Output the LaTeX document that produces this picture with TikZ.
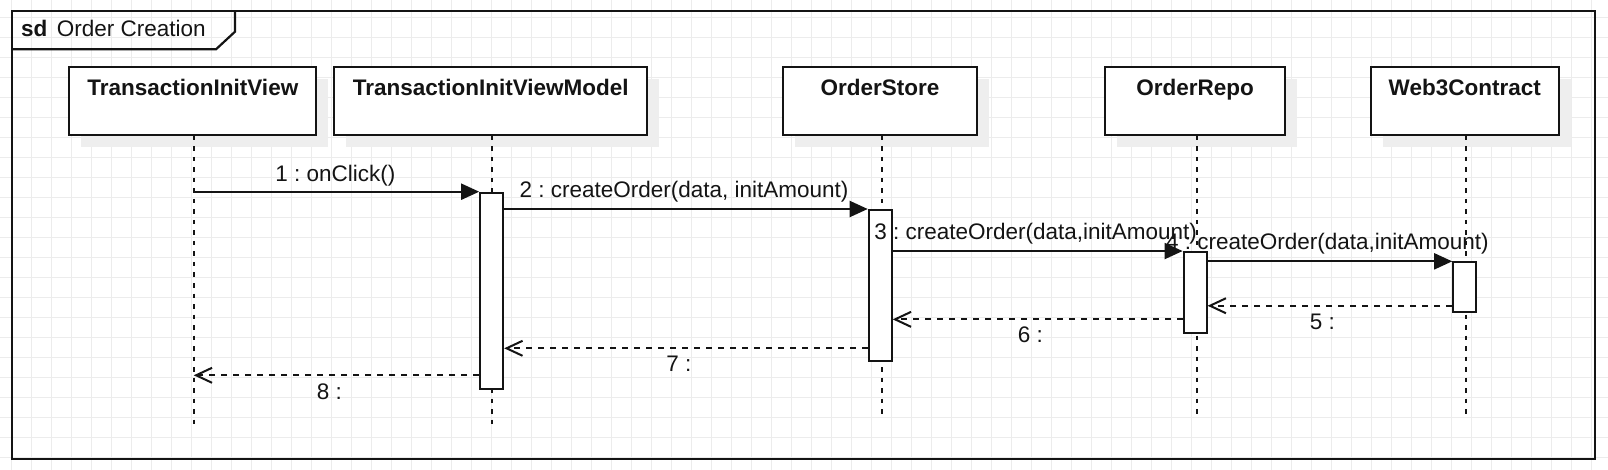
\documentclass[tikz,border=0pt]{standalone}
\usepackage{fontspec}
\setmainfont{Liberation Sans}
\usetikzlibrary{arrows.meta,shadows}
\definecolor{gridc}{RGB}{236,236,236}
\definecolor{ink}{RGB}{20,20,20}
\definecolor{shadowc}{RGB}{238,238,238}
\frenchspacing
\begin{document}
\frenchspacing
\begin{tikzpicture}[x=1pt,y=-1pt,
  gridline/.style={draw=gridc, line width=1pt},
  frameline/.style={draw=ink, line width=2.2pt},
  lifebox/.style={draw=ink, line width=2pt, fill=white, minimum height=68pt, inner sep=0pt,
    drop shadow={shadow xshift=12pt, shadow yshift=-12pt, fill=shadowc, opacity=1}},
  titletext/.style={font=\fontsize{22.5}{27}\selectfont\bfseries, anchor=base, inner sep=0pt, text=ink},
  actbar/.style={draw=ink, line width=2pt, fill=white, minimum width=23pt, inner sep=0pt},
  lifeline/.style={draw=ink, line width=2pt, dash pattern=on 4.5pt off 6pt},
  msg/.style={draw=ink, line width=2pt, -{Triangle[length=18pt,width=16pt]}},
  ret/.style={draw=ink, line width=2pt, dash pattern=on 6pt off 6pt, -{Straight Barb[length=16pt,width=15pt]}},
  lbl/.style={font=\fontsize{22.5}{27}\selectfont\frenchspacing, anchor=base, inner sep=0pt, text=ink}
]
\useasboundingbox (0,0) rectangle (1608,470);
\fill[white] (0,0) rectangle (1608,470);
% grid
\foreach \gx in {11.7,31.7,...,1608} \draw[gridline] (\gx,0) -- (\gx,470);
\foreach \gy in {17.3,37.3,...,470} \draw[gridline] (0,\gy) -- (1608,\gy);
% frame
\draw[frameline] (12.3,10.7) rectangle (1595,459);
\draw[frameline] (12.3,49.3) -- (216,49.3) -- (235,31.7) -- (235,10.7);
\node[lbl, anchor=base west] (sdlabel) at (21,36.7) {\bfseries sd\hspace{9.4pt}\mdseries Order Creation};
% lifeline heads
\node[lifebox, minimum width=247pt] (tiv) at (192,101) {};
\node[lifebox, minimum width=312.8pt] (tivm) at (490.7,101) {};
\node[lifebox, minimum width=194.8pt] (os) at (879.9,101) {};
\node[lifebox, minimum width=180.6pt] (or) at (1195,101) {};
\node[lifebox, minimum width=188pt] (w3) at (1464.7,101) {};
\node[titletext] (tivT) at (192.8,96) {TransactionInitView};
\node[titletext] (tivmT) at (490.7,96) {TransactionInitViewModel};
\node[titletext] (osT) at (879.9,96) {OrderStore};
\node[titletext] (orT) at (1195,96) {OrderRepo};
\node[titletext] (w3T) at (1464.7,96) {Web3Contract};
% lifelines
\coordinate (tivL) at (193.7,425);
\coordinate (tivmL) at (492.4,425);
\coordinate (osL) at (881.6,415);
\coordinate (orL) at (1196.7,415);
\coordinate (w3L) at (1466.4,415);
\draw[lifeline] (tivL |- tiv.south) -- (tivL);
\draw[lifeline] (tivmL |- tivm.south) -- (tivmL);
\draw[lifeline] (osL |- os.south) -- (osL);
\draw[lifeline] (orL |- or.south) -- (orL);
\draw[lifeline] (w3L |- w3.south) -- (w3L);
% activation bars
\node[actbar, minimum height=196.6pt] (b1) at (491.7,291) {};
\node[actbar, minimum height=151pt] (b2) at (880.2,285.5) {};
\node[actbar, minimum height=81.3pt] (b3) at (1195.1,292.7) {};
\node[actbar, minimum height=49.7pt] (b4) at (1464.7,287.2) {};
% messages
\draw[msg] (tivL |- b1.north) -- node[lbl, yshift=10.5pt, xshift=-1pt] {1 : onClick()} (b1.north west);
\draw[msg] (b1.east |- b2.north) -- node[lbl, yshift=11pt, xshift=-2pt] {2 : createOrder(data, initAmount)} (b2.north west);
\draw[msg] (b2.east |- b3.north) -- node[lbl, yshift=11.6pt, xshift=-2pt] {3 : createOrder(data,initAmount)} (b3.north west);
\draw[msg] (b3.east |- b4.north) -- node[lbl, yshift=11.8pt, xshift=-2.5pt] {4 : createOrder(data,initAmount)} (b4.north west);
% returns
\draw[ret] ([yshift=7.3pt]b4.south west) coordinate (r5) -- node[lbl, yshift=-23.6pt, xshift=-7.5pt] {5 :} (b3.east |- r5);
\draw[ret] ([yshift=15pt]b3.south west) coordinate (r6) -- node[lbl, yshift=-23.4pt, xshift=-7.2pt] {6 :} (b2.east |- r6);
\draw[ret] ([yshift=13.7pt]b2.south west) coordinate (r7) -- node[lbl, yshift=-23.4pt, xshift=-7pt] {7 :} (b1.east |- r7);
\draw[ret] ([yshift=15pt]b1.south west) coordinate (r8) -- node[lbl, yshift=-24pt, xshift=-7pt] {8 :} (tivL |- r8);
\end{tikzpicture}
\end{document}
